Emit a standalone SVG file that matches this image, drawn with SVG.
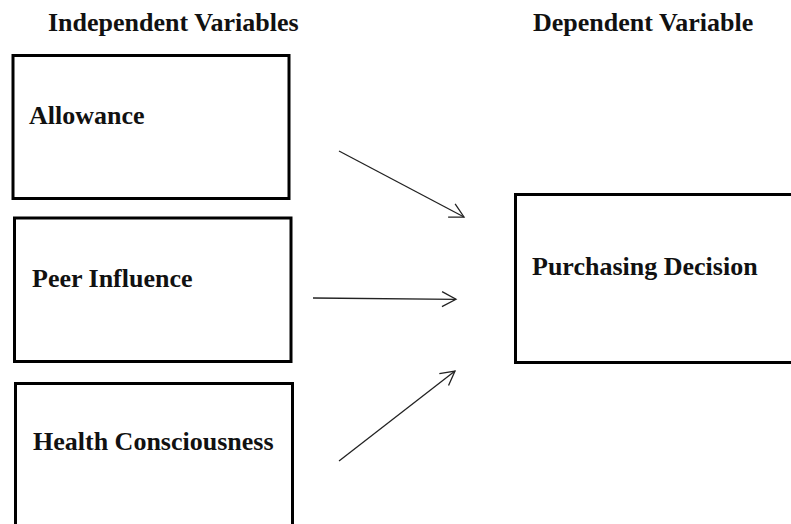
<svg xmlns="http://www.w3.org/2000/svg" width="791" height="524" viewBox="0 0 791 524">
<style>
.box{fill:#fff;stroke:#000;stroke-width:3}
.t{font-family:"Liberation Serif","Times New Roman",serif;font-weight:bold;font-size:26px;fill:#111}
.c{stroke:#222;stroke-width:1.3;fill:none}
</style>
<defs>
<marker id="ah" markerUnits="userSpaceOnUse" markerWidth="20" markerHeight="20" viewBox="-16 -10 20 20" refX="0" refY="0" orient="auto">
<path d="M-14,-7.5 L0,0 L-14,7.5" fill="none" stroke="#222" stroke-width="1.3"/>
</marker>
</defs>
<rect width="791" height="524" fill="#fff"/>
<text class="t" x="48" y="31">Independent Variables</text>
<text class="t" x="533" y="31">Dependent Variable</text>
<g id="allowance">
<rect class="box" x="13" y="55.5" width="276" height="143"/>
<text class="t" x="29" y="124">Allowance</text>
</g>
<g id="peer">
<rect class="box" x="14.5" y="218" width="276.5" height="143.5"/>
<text class="t" x="32" y="287">Peer Influence</text>
</g>
<g id="health">
<rect class="box" x="15.5" y="383.5" width="277" height="160"/>
<text class="t" x="33" y="450">Health Consciousness</text>
</g>
<g id="purchasing">
<rect class="box" x="515.5" y="194.5" width="300" height="168"/>
<text class="t" x="532" y="275">Purchasing Decision</text>
</g>
<g id="connectors">
<line class="c" x1="339" y1="151" x2="464" y2="217" marker-end="url(#ah)"/>
<line class="c" x1="313" y1="298" x2="456" y2="299.3" marker-end="url(#ah)"/>
<line class="c" x1="339" y1="461" x2="455" y2="371" marker-end="url(#ah)"/>
</g>
</svg>
